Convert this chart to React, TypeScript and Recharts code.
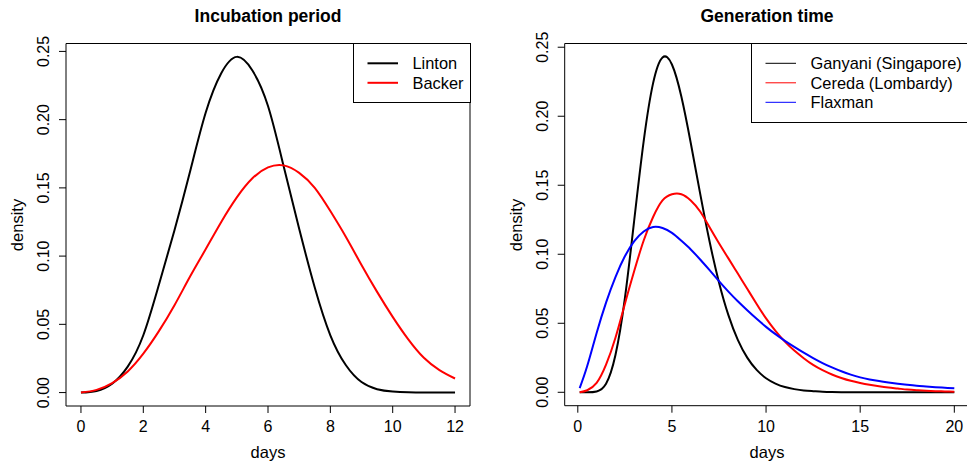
import React from 'react';
import { LineChart, Line, XAxis, YAxis, ReferenceArea, Legend } from 'recharts';

const FONT = '"Liberation Sans", Arial, Helvetica, sans-serif';

// Incubation period panel
const incubationDays = [0, 0.5, 1, 1.5, 2, 2.5, 3, 3.5, 4, 4.5, 5, 5.5, 6, 6.5, 7, 7.5, 8, 8.5, 9, 9.5, 10, 10.5, 11, 11.5, 12];
const lintonDensity = [0, 0.0012, 0.0065, 0.019, 0.042, 0.079, 0.119, 0.162, 0.205, 0.234, 0.246, 0.236, 0.210, 0.166, 0.120, 0.077, 0.042, 0.020, 0.0077, 0.0025, 0.0008, 0.0002, 0, 0, 0];
const backerDensity = [0, 0.002, 0.007, 0.0155, 0.0285, 0.045, 0.064, 0.085, 0.105, 0.125, 0.143, 0.157, 0.165, 0.1665, 0.161, 0.150, 0.133, 0.114, 0.0935, 0.0738, 0.0555, 0.039, 0.0255, 0.0165, 0.0103];

// Generation time panel
const generationDays = [0.1, 0.5, 1, 1.5, 2, 2.5, 3, 3.5, 4, 4.5, 5, 5.5, 6, 6.5, 7, 7.5, 8, 8.5, 9, 9.5, 10, 10.5, 11, 11.5, 12, 12.5, 13, 13.5, 14, 14.5, 15, 15.5, 16, 16.5, 17, 17.5, 18, 18.5, 19, 19.5, 20];
const ganyaniDensity = [0, 0, 0.0006, 0.0062, 0.027, 0.068, 0.125, 0.182, 0.224, 0.2426, 0.2375, 0.2143, 0.1806, 0.1439, 0.1092, 0.0796, 0.0559, 0.038, 0.0251, 0.0162, 0.0102, 0.0063, 0.0038, 0.0023, 0.0013, 0.0008, 0.0004, 0.0002, 0.0001, 0, 0, 0, 0, 0, 0, 0, 0, 0, 0, 0, 0];
const ceredaDensity = [0, 0.0015, 0.0068, 0.020, 0.0395, 0.064, 0.088, 0.110, 0.127, 0.139, 0.1435, 0.1435, 0.139, 0.131, 0.1195, 0.108, 0.097, 0.086, 0.075, 0.064, 0.0535, 0.0445, 0.0367, 0.0302, 0.0247, 0.0198, 0.016, 0.0129, 0.0104, 0.0083, 0.0067, 0.0054, 0.0043, 0.0034, 0.0027, 0.002, 0.0015, 0.0011, 0.0008, 0.0006, 0.0004];
const flaxmanDensity = [0.003, 0.019, 0.043, 0.065, 0.0835, 0.0985, 0.1095, 0.1165, 0.1197, 0.119, 0.1155, 0.1098, 0.1035, 0.0962, 0.0885, 0.0805, 0.0729, 0.0659, 0.0594, 0.0532, 0.0474, 0.0421, 0.0373, 0.0329, 0.0287, 0.0248, 0.0212, 0.018, 0.0152, 0.0128, 0.0108, 0.0093, 0.0081, 0.0071, 0.0062, 0.0054, 0.0047, 0.0042, 0.0037, 0.0033, 0.0029];

const incubationSeries = [
  { key: 'linton', name: 'Linton', color: '#000000' },
  { key: 'backer', name: 'Backer', color: '#ff0000' },
];
const generationSeries = [
  { key: 'ganyani', name: 'Ganyani (Singapore)', color: '#000000' },
  { key: 'cereda', name: 'Cereda (Lombardy)', color: '#ff0000' },
  { key: 'flaxman', name: 'Flaxman', color: '#0000ff' },
];

const incubationTicks = [0, 2, 4, 6, 8, 10, 12];
const generationTicks = [0, 5, 10, 15, 20];
const densityTicks = [0, 0.05, 0.1, 0.15, 0.2, 0.25];

// R-style axis ranges (data range padded by 4%)
const incubationX: [number, number] = [-0.48, 12.48];
const incubationY: [number, number] = [-0.00984, 0.2558];
const generationX: [number, number] = [-0.696, 20.796];
const generationY: [number, number] = [-0.00972, 0.2527];

const incubationData = incubationDays.map((day, i) => ({ day, linton: lintonDensity[i], backer: backerDensity[i] }));
const generationData = generationDays.map((day, i) => ({
  day,
  ganyani: ganyaniDensity[i],
  cereda: ceredaDensity[i],
  flaxman: flaxmanDensity[i],
}));

const YTick = (props: any) => {
  const { x, y, payload } = props;
  return (
    <text x={x} y={y} transform={`rotate(-90, ${x}, ${y})`} textAnchor="middle" fontSize={16} fontFamily={FONT} fill="#000">
      {Number(payload.value).toFixed(2)}
    </text>
  );
};

const XTick = (props: any) => {
  const { x, y, payload } = props;
  return (
    <text x={x} y={y} dy={11.5} textAnchor="middle" fontSize={16} fontFamily={FONT} fill="#000">
      {payload.value}
    </text>
  );
};

function legendBox(width: number, height: number, lineW: number, order: string[]) {
  return (props: any) => {
    const items = [...(props.payload || [])].sort((a: any, b: any) => order.indexOf(a.value) - order.indexOf(b.value));
    return (
      <div style={{ width, height, border: '1px solid #000', boxSizing: 'border-box', background: '#fff' }}>
        <svg width={width - 2} height={height - 2} style={{ display: 'block' }}>
          {items.map((it: any, i: number) => {
            const cy = 19.3 + i * 19.5;
            return (
              <g key={it.value}>
                <line x1={13.5} x2={44} y1={cy} y2={cy} stroke={it.color} strokeWidth={lineW} />
                <text x={58.5} y={cy + 5.7} fontSize={16.4} fontFamily={FONT} fill="#000">{it.value}</text>
              </g>
            );
          })}
        </svg>
      </div>
    );
  };
}

export default function App() {
  return (
    <div style={{ position: 'fixed', left: 0, top: 0, width: 967, height: 464, overflow: 'hidden', background: '#fff' }}>
      <div style={{ position: 'absolute', left: 0, top: 0 }}>
        <LineChart width={483} height={464} data={incubationData} margin={{ top: 43.5, right: 13, bottom: 13, left: 26 }}>
          <XAxis type="number" dataKey="day" domain={incubationX} ticks={incubationTicks} interval={0}
            height={45} axisLine={false} tickSize={7} tickMargin={7.5} tickLine={{ stroke: '#000' }} tick={<XTick />} />
          <YAxis type="number" domain={incubationY} ticks={densityTicks} interval={0}
            width={40} axisLine={false} tickSize={7} tickMargin={9.5} tickLine={{ stroke: '#000' }} tick={<YTick />} />
          <ReferenceArea x1={incubationX[0]} x2={incubationX[1]} y1={incubationY[0]} y2={incubationY[1]}
            fill="none" fillOpacity={0} stroke="#000" strokeWidth={1} ifOverflow="visible" />
          {incubationSeries.map((s) => (
            <Line key={s.key} type="natural" dataKey={s.key} name={s.name} stroke={s.color} strokeWidth={2} dot={false} isAnimationActive={false} />
          ))}
          <Legend layout="vertical" align="center" verticalAlign="middle"
            wrapperStyle={{ left: 352.5, top: 43, width: 118, height: 59.5 }}
            content={legendBox(118, 59.5, 2, incubationSeries.map((s) => s.name))} />
        </LineChart>
      </div>
      <div style={{ position: 'absolute', left: 483, top: 0 }}>
        <LineChart width={497} height={464} data={generationData} margin={{ top: 43.5, right: 10.7, bottom: 13.3, left: 41.7 }}>
          <XAxis type="number" dataKey="day" domain={generationX} ticks={generationTicks} interval={0}
            height={45} axisLine={false} tickSize={7} tickMargin={7.5} tickLine={{ stroke: '#000' }} tick={<XTick />} />
          <YAxis type="number" domain={generationY} ticks={densityTicks} interval={0}
            width={40} axisLine={false} tickSize={7} tickMargin={9.5} tickLine={{ stroke: '#000' }} tick={<YTick />} />
          <ReferenceArea x1={generationX[0]} x2={generationX[1]} y1={generationY[0]} y2={generationY[1]}
            fill="none" fillOpacity={0} stroke="#000" strokeWidth={1} ifOverflow="visible" />
          {generationSeries.map((s) => (
            <Line key={s.key} type="natural" dataKey={s.key} name={s.name} stroke={s.color} strokeWidth={2} dot={false} isAnimationActive={false} />
          ))}
          <Legend layout="vertical" align="center" verticalAlign="middle"
            wrapperStyle={{ left: 268, top: 43, width: 230, height: 79.5 }}
            content={legendBox(230, 79.5, 1, generationSeries.map((s) => s.name))} />
        </LineChart>
      </div>
      <svg width={967} height={464} style={{ position: 'absolute', left: 0, top: 0, pointerEvents: 'none' }}>
        <g fontFamily={FONT} fill="#000">
          <text x={268} y={22} textAnchor="middle" fontSize={17.5} fontWeight="bold">Incubation period</text>
          <text x={767} y={22} textAnchor="middle" fontSize={17.5} fontWeight="bold">Generation time</text>
          <text x={268} y={458} textAnchor="middle" fontSize={16.5}>days</text>
          <text x={767} y={458} textAnchor="middle" fontSize={16.5}>days</text>
          <text x={23} y={225} transform="rotate(-90, 23, 225)" textAnchor="middle" fontSize={16.5}>density</text>
          <text x={522} y={225} transform="rotate(-90, 522, 225)" textAnchor="middle" fontSize={16.5}>density</text>
        </g>
      </svg>
    </div>
  );
}
